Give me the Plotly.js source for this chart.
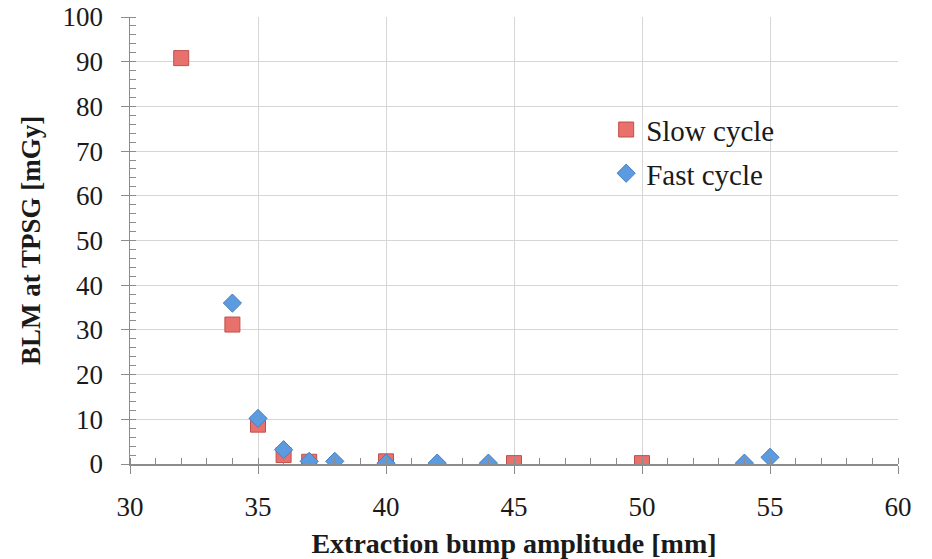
<!DOCTYPE html>
<html>
<head>
<meta charset="utf-8">
<script src="https://cdn.plot.ly/plotly-3.0.1.min.js"></script>
<style>html,body{margin:0;padding:0;background:#fff;}#chart{width:932px;height:559px;}</style>
</head>
<body>
<div id="chart"></div>
<script>
const slowX = [32, 34, 35, 36, 37, 40, 45, 50];
const slowY = [90.8, 31.2, 8.8, 2.0, 0.5, 0.6, 0.2, 0.2];
const fastX = [34, 35, 36, 37, 38, 40, 42, 44, 54, 55];
const fastY = [36.0, 10.2, 3.2, 0.6, 0.6, 0.2, 0.2, 0.2, 0.2, 1.5];
const xTitle = "Extraction bump amplitude [mm]";
const yTitle = "BLM at TPSG [mGy]";

const serif = "Liberation Serif";
const traces = [
  {x: slowX, y: slowY, type: "scatter", mode: "markers", name: "Slow cycle", legendgroup: "a",
   marker: {symbol: "square", size: 15, color: "#e8716c", line: {color: "#c0504d", width: 1}}},
  {x: fastX, y: fastY, type: "scatter", mode: "markers", name: "Fast cycle", legendgroup: "b",
   marker: {symbol: "diamond", size: 14, color: "#5d9be0", line: {color: "#4a7fbf", width: 1}}}
];
const layout = {
  width: 932, height: 559,
  margin: {l: 130, r: 34, t: 17, b: 95},
  paper_bgcolor: "#fff", plot_bgcolor: "#fff",
  font: {family: serif, color: "#1a1a1a", size: 25},
  showlegend: true,
  legend: {x: 0.62, y: 0.805, xanchor: "left", yanchor: "top", font: {size: 29, family: serif},
           bgcolor: "rgba(0,0,0,0)", traceorder: "grouped", tracegroupgap: 3, itemwidth: 30},
  xaxis: {range: [30, 60], dtick: 5, tick0: 30, showgrid: true, gridcolor: "#d6d6d6", gridwidth: 1,
          showline: true, linecolor: "#8c8c8c", linewidth: 1.5, zeroline: false,
          ticks: "outside", ticklen: 8, tickcolor: "#8c8c8c", tickfont: {size: 27, family: serif},
          ticklabelstandoff: 10,
          minor: {dtick: 1, ticks: "inside", ticklen: 6, tickcolor: "#8c8c8c", showgrid: false},
          title: {text: xTitle, font: {size: 28, family: serif, weight: "bold"}, standoff: 12}},
  yaxis: {range: [0, 100], dtick: 10, showgrid: true, gridcolor: "#d6d6d6", gridwidth: 1,
          showline: true, linecolor: "#8c8c8c", linewidth: 1.5, zeroline: false,
          ticks: "outside", ticklen: 8, tickcolor: "#8c8c8c", tickfont: {size: 27, family: serif},
          ticklabelstandoff: 12,
          minor: {dtick: 2, ticks: "inside", ticklen: 6, tickcolor: "#8c8c8c", showgrid: false},
          title: {text: yTitle, font: {size: 27, family: serif, weight: "bold"}, standoff: 14}}
};
Plotly.newPlot("chart", traces, layout, {displayModeBar: false, staticPlot: true});
</script>
</body>
</html>
